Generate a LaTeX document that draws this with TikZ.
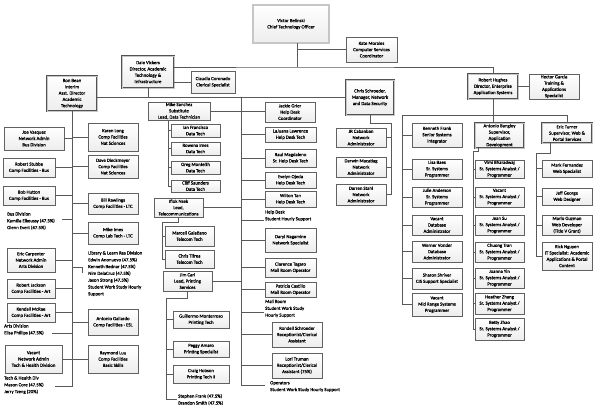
\documentclass[tikz,border=0pt]{standalone}
\usepackage{fontspec}
\setmainfont{Carlito}[FakeBold=0.35]
\newfontfamily\orgfont{Carlito}[FakeBold=0.35]
\newcommand\orgfs{\orgfont\fontsize{4.8}{6.3}\selectfont}
\newcommand\orgfst{\orgfont\fontsize{4.8}{6.8}\selectfont}
\tikzset{
  bx/.style={draw=black!62, line width=0.75pt, top color=white, bottom color=gray!14, align=center, font=\orgfs,
    inner xsep=0.5pt, inner ysep=0pt},
  big/.style={draw=black!68, line width=0.5pt, double=gray!45, double distance=0.8pt},
  vbig/.style={draw=black!68, line width=0.55pt, double=gray!45, double distance=1.5pt},
  txt/.style={font=\orgfst, align=left, anchor=north west, inner sep=0pt},
  ln/.style={draw=black!65, line width=0.7pt},
}
\newcommand\bx[7][]{\node[bx,#1,minimum width={#5-#3},minimum height={#6-#4}] (#2) at ({(#3+#5)/2},{(#4+#6)/2}) {#7};}
\begin{document}
\begin{tikzpicture}[x=1pt,y=-1pt]
\useasboundingbox (0,0) rectangle (600,416);
\fill[white] (0,0) rectangle (600,416);
% top level
\bx[vbig]{victor}{253}{5}{329}{43}{Victor Belinski\\Chief Technology Officer}
\bx{kate}{346}{37}{397}{62}{Kate Morales\\Computer Services\\Coordinator}
\bx[big]{dale}{122}{56}{174}{88}{Dale Vickers\\Director, Academic\\Technology \&\\Infrastructure}
\bx{claudia}{191}{71}{235}{93}{Claudia Coronado\\Clerical Specialist}
\bx[big]{ron}{47}{76}{97}{111}{Ron Bean\\Interim\\Asst. Director\\Academic\\Technology}
\bx[big]{chris}{346}{80}{394}{115}{Chris Schroeder,\\Manager, Network\\and Data Security}
\bx[big]{robert}{468}{74}{518}{99}{Robert Hughes\\Director, Enterprise\\Application Systems}
\bx{hector}{529}{74}{579}{99}{Hector Garcia\\Training \&\\Applications\\Specialist}
% Ron left
\bx{joe}{4}{127}{64}{150}{Joe Vasquez\\Network Admin\\Bus Division}
\bx{stubbe}{3}{158}{55}{177}{Robert Stubbe\\Comp Facilities - Bus}
\bx{hutton}{3}{186}{55}{205}{Bob Hutton\\Comp Facilities - Bus}
\bx{carpenter}{7}{248}{55}{272}{Eric Carpenter\\Network Admin\\Arts Division}
\bx{jackson}{7}{279}{55}{298}{Robert Jackson\\Comp Facilities - Art}
\bx{mcrae}{7}{303}{55}{322}{Kendall McRae\\Comp Facilities - Art}
\bx{vacth}{5}{345}{62}{373}{Vacant\\Network Admin\\Tech \& Health Division}
% Ron right
\bx{karen}{88}{123}{138}{151}{Karen Long\\Comp Facilities\\Nat Sciences}
\bx{dave}{88}{155}{138}{178}{Dave Dieckmeyer\\Comp Facilities\\Nat Sciences}
\bx{bill}{88}{193}{138}{214}{Bill Rawlings\\Comp Facilities - LTC}
\bx{imes}{88}{222}{138}{244}{Mike Imes\\Comp Lab Tech - LTC}
\bx{gallardo}{88}{309}{138}{335}{Antonio Gallardo\\Comp Facilities - ESL}
\bx{luu}{88}{345}{138}{373}{Raymond Luu\\Comp Facilities\\Basic Skills}
% Ron texts
\node[txt] (bus) at (7,212) {Bus Division\\Kamilia Elkoussy (47.5\%)\\Glenn Evert (47.5\%)};
\node[txt] (lib) at (88,251) {Library \& Learn Res Division\\Edwin Anonuevo (47.5\%)\\Kenneth Bednar (47.5\%)\\Nim DelaCruz (47.5\%)\\Jason Strong (47.5\%)\\Student Work Study Hourly\\Support};
\node[txt] (arts) at (4,324) {Arts Division\\Elisa Phillips (47.5\%)};
\node[txt] (tech) at (4,376) {Tech \& Health Div\\Mason Core (47.5\%)\\Jerry Tzeng (20\%)};
% Dale column left
\bx{mike}{148}{102}{210}{120}{Mike Sanchez\\Substitute\\Lead, Data Technician}
\bx{ian}{171}{124}{220}{137}{Ian Francisco\\Data Tech}
\bx{rowena}{171}{142}{220}{155}{Rowena Imes\\Data Tech}
\bx{greg}{171}{161}{220}{174}{Greg Monteith\\Data Tech}
\bx{cliff}{171}{180}{220}{192}{Cliff Saunders\\Data Tech}
\bx{iflok}{154}{198}{203}{217}{Iflok Nsek\\Lead,\\Telecommunications}
\bx{marcell}{165}{226}{214}{246}{Marcell Galatiano\\Telecom Tech}
\bx{tifrea}{165}{250}{214}{268}{Chris Tifrea\\Telecom Tech}
\bx{jim}{163}{271}{212}{291}{Jim Carl\\Lead, Printing\\Services}
\bx{guillermo}{173}{311}{229}{328}{Guillermo Monterroso\\Printing Tech}
\bx{peggy}{173}{341}{229}{357}{Peggy Amaro\\Printing Specialist}
\bx{craig}{173}{365}{229}{383}{Craig Hobson\\Printing Tech II}
\node[txt] (printers) at (178,394) {Stephen Frank (47.5\%)\\Brandon Smith (47.5\%)};
% Dale column right
\bx{jackie}{265}{102}{315}{122}{Jackie Grier\\Help Desk\\Coordinator}
\bx{lajuana}{265}{127}{316}{142}{LaJuana Lawrence\\Help Desk Tech}
\bx{raul}{265}{149}{316}{167}{Raul Magdaleno\\Sr. Help Desk Tech}
\bx{evelyn}{265}{172}{316}{188}{Evelyn Ojeda\\Help Desk Tech}
\bx{wilton}{265}{191}{316}{207}{Wilton Tan\\Help Desk Tech}
\bx{daryl}{265}{228}{316}{252}{Daryl Nagamine\\Network Specialist}
\bx{clarence}{265}{258}{316}{277}{Clarence Tagaro\\Mail Room Operator}
\bx{patricia}{265}{282}{316}{297}{Patricia Castillo\\Mail Room Operator}
\bx{rondell}{272}{322}{322}{347}{Rondell Schroeder\\Receptionist/Clerical\\Assistant}
\bx{lori}{272}{353}{322}{378}{Lori Truman\\Receptionist/Clerical\\Assistant (75\%)}
\node[txt] (help) at (265,210) {Help Desk\\Student Hourly Support};
\node[txt] (mail) at (265,299.5) {Mail Room\\Student Work Study\\Hourly Support};
\node[txt] (oper) at (270,381) {Operators\\Student Work Study Hourly Support};
% Chris group
\bx{jr}{336}{128}{386}{147}{JR Cabanban\\Network\\Administrator}
\bx{darwin}{336}{157}{386}{177}{Darwin Macatiag\\Network\\Administrator}
\bx{darren}{336}{184}{386}{205}{Darren Stahl\\Network\\Administrator}
% Kenneth group
\bx{kenneth}{412}{123}{462}{147}{Kenneth Frank\\Senior Systems\\Integrator}
\bx{lisa}{412}{159}{462}{179}{Lisa Baes\\Sr. Systems\\Programmer}
\bx{julie}{412}{187}{462}{207}{Julie Anderson\\Sr. Systems\\Programmer}
\bx{vacdb}{412}{215}{462}{235}{Vacant\\Database\\Administrator}
\bx{werner}{412}{241}{462}{262}{Werner Vonder\\Database\\Administrator}
\bx{sharon}{412}{268}{462}{289}{Sharon Shriver\\CIS Support Specialist}
\bx{vacmid}{412}{293}{462}{316}{Vacant\\Mid Range Systems\\Programmer}
% Antonio group
\bx[big]{antonio}{475}{123}{524}{148}{Antonio Bangloy\\Supervisor,\\Application\\Development}
\bx{vimi}{475}{160}{524}{178}{Vimi Bharadwaj\\Sr. Systems Analyst /\\Programmer}
\bx{vacsa}{475}{187}{524}{207}{Vacant\\Sr. Systems Analyst /\\Programmer}
\bx{jean}{475}{215}{524}{235}{Jean Su\\Sr. Systems Analyst /\\Programmer}
\bx{chuong}{475}{242}{524}{262}{Chuong Tran\\Sr. Systems Analyst /\\Programmer}
\bx{joanna}{475}{268}{524}{288}{Joanna Yin\\Sr. Systems Analyst /\\Programmer}
\bx{heather}{475}{293}{524}{314}{Heather Zhang\\Sr. Systems Analyst /\\Programmer}
\bx{betty}{475}{318}{524}{340}{Betty Zhao\\Sr. Systems Analyst /\\Programmer}
% Eric group
\bx[big]{eric}{542}{123}{592}{143}{Eric Turner\\Supervisor, Web \&\\Portal Services}
\bx{mark}{542}{160}{592}{177}{Mark Fernandez\\Web Specialist}
\bx{jeff}{542}{188}{592}{205}{Jeff George\\Web Designer}
\bx{mario}{542}{215}{592}{235}{Mario Guzman\\Web Developer\\(Title V Grant)}
\bx{rick}{542}{242}{592}{270}{Rick Nguyen\\IT Specialist: Academic\\Applications \& Portal\\Content}
% ---------- connectors ----------
\coordinate (vt) at (297,67);
\draw[ln] (victor.south -| vt) -- (vt);
\draw[ln] (dale.east |- vt) -- (vt) -| (robert.north);
\draw[ln] (vt |- kate.west) -- (kate.west);
\draw[ln] (dale.east |- claudia.west) -- (claudia.west);
\draw[ln] (ron.east |- chris.west) -- (chris.west);
\draw[ln] (dale.south) -- (dale.south |- chris.west);
% Ron trunk
\coordinate (rbot) at (72,386);
\coordinate (techc) at (55,386);
\draw[ln] (ron.south) -- (rbot) -- (techc);
\foreach \n in {joe,stubbe,hutton,carpenter,jackson,mcrae,vacth}
  \draw[ln] (\n.east) -- (\n.east -| ron.south);
\foreach \n in {karen,dave,bill,imes,gallardo,luu}
  \draw[ln] (\n.west) -- (\n.west -| ron.south);
\coordinate (busc) at (62,219);
\draw[ln] (busc) -- (busc -| ron.south);
\coordinate (libc1) at (82,267);
\coordinate (libc2) at (82,273);
\draw[ln] (libc1 -| ron.south) -- (libc1) -- (libc2);
\coordinate (artsc) at (52,333);
\draw[ln] (artsc) -- (artsc -| ron.south);
% Dale trunk
\coordinate (dt) at (241,97.5);
\coordinate (db) at (241,385);
\coordinate (opc) at (265,385);
\draw[ln] (dt) -- (db) -- (opc);
\fill[black!65] (dt) circle (0.9pt);
\draw[ln] (mike.east) -- (mike.east -| jackie.west);
\foreach \n in {lajuana,raul,evelyn,wilton,daryl,clarence,patricia,rondell,lori}
  \draw[ln] (\n.west -| dt) -- (\n.west);
\draw[ln] (iflok.east) -- (iflok.east -| dt);
\draw[ln] (jim.east) -- (jim.east -| dt);
\coordinate (helpc) at (264,220);
\draw[ln] (helpc -| dt) -- (helpc);
\coordinate (mailc) at (264,312);
\draw[ln] (mailc -| dt) -- (mailc);
% Mike subs
\coordinate (mx) at (168,120);
\draw[ln] (mx) -- (mx |- cliff.west);
\foreach \n in {ian,rowena,greg,cliff}
  \draw[ln] (mx |- \n.west) -- (\n.west);
% Iflok subs
\coordinate (ix) at (162,222);
\draw[ln] (iflok.south) |- (ix) -- (ix |- tifrea.west);
\foreach \n in {marcell,tifrea}
  \draw[ln] (ix |- \n.west) -- (\n.west);
% Jim subs
\coordinate (jx) at (166,298);
\coordinate (jend) at (177,399);
\draw[ln] (jim.south) |- (jx) -- (jx |- jend) -- (jend);
\foreach \n in {guillermo,peggy,craig}
  \draw[ln] (jx |- \n.west) -- (\n.west);
% Chris subs
\coordinate (cx) at (391,123);
\draw[ln] (chris.south) |- (cx) -- (cx |- darren.east);
\foreach \n in {jr,darwin,darren}
  \draw[ln] (cx |- \n.east) -- (\n.east);
% Robert
\draw[ln] (robert.east) -- (hector.west);
\draw[ln] (robert.south) -- (robert.south |- antonio.north);
\coordinate (kx) at (402,115);
\coordinate (ex) at (567,115);
\draw[ln] (kx) -- (ex) -- (eric.north);
\draw[ln] (kx) -- (kx |- vacmid.west);
\foreach \n in {kenneth,lisa,julie,vacdb,werner,sharon,vacmid}
  \draw[ln] (kx |- \n.west) -- (\n.west);
% Antonio subs
\coordinate (ax) at (473,151);
\draw[ln] ([xshift=4pt]antonio.south west) |- (ax) -- (ax |- betty.west);
\foreach \n in {vimi,vacsa,jean,chuong,joanna,heather,betty}
  \draw[ln] (ax |- \n.west) -- (\n.west);
% Eric subs
\coordinate (ex2) at (536,153);
\draw[ln] ([xshift=-17pt]eric.south) |- (ex2) -- (ex2 |- rick.west);
\foreach \n in {mark,jeff,mario,rick}
  \draw[ln] (ex2 |- \n.west) -- (\n.west);
\end{tikzpicture}
\end{document}
